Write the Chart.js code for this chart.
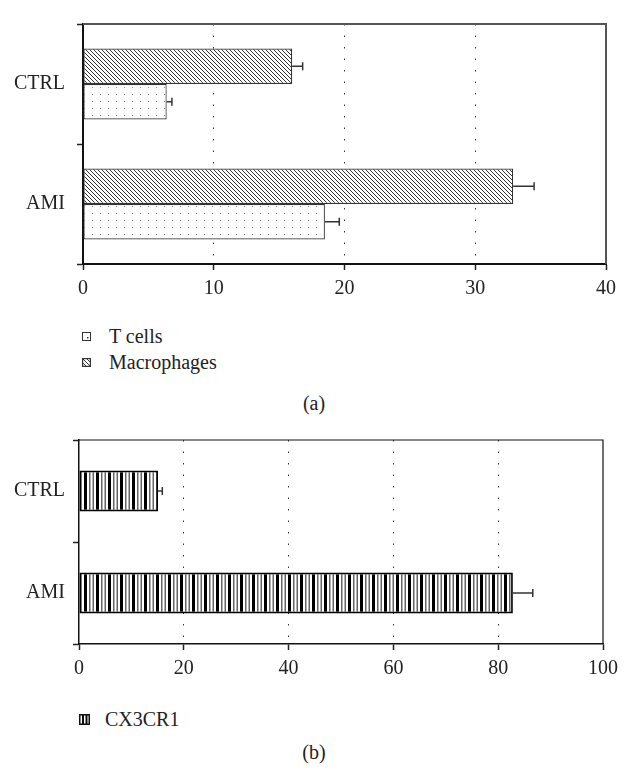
<!DOCTYPE html>
<html>
<head>
<meta charset="utf-8">
<script src="https://cdn.jsdelivr.net/npm/chart.js@4"></script>
<style>
  body { margin: 0; background: #fff; width: 628px; height: 771px; position: relative; overflow: hidden;
         font-family: "Liberation Serif", serif; color: #222; }
  canvas.plot { position: absolute; left: 0; }
  .lg { position: absolute; font-size: 20px; line-height: 22px; white-space: nowrap; }
  .sw { position: absolute; }
  .cap { position: absolute; font-size: 20px; line-height: 22px; width: 628px; text-align: center; left: 0; }
</style>
</head>
<body>
<canvas id="chartA" class="plot" width="628" height="300" style="top:0"></canvas>
<canvas id="swT" class="sw" width="9" height="9" style="left:82px;top:332px"></canvas>
<div class="lg" style="left:109px;top:325px">T cells</div>
<canvas id="swM" class="sw" width="9" height="9" style="left:82px;top:358px"></canvas>
<div class="lg" style="left:109px;top:351px">Macrophages</div>
<div class="cap" style="top:392px">(a)</div>

<canvas id="chartB" class="plot" width="628" height="260" style="top:420px"></canvas>
<canvas id="swC" class="sw" width="11" height="11" style="left:79px;top:714px"></canvas>
<div class="lg" style="left:105px;top:708px">CX3CR1</div>
<div class="cap" style="top:741px">(b)</div>

<script>
// data (a)
const groups = ['CTRL', 'AMI'];
const tCells = [6.4, 18.5];
const tCellsErr = [0.4, 1.1];
const macrophages = [16.0, 32.9];
const macrophagesErr = [0.8, 1.6];
const ticksA = [0, 10, 20, 30, 40];

// data (b)
const cx3cr1 = [15.1, 82.8];
const cx3cr1Err = [0.8, 3.8];
const ticksB = [0, 20, 40, 60, 80, 100];

// patterns
function makePattern(w, h, draw) {
  const c = document.createElement('canvas');
  c.width = w; c.height = h;
  const g = c.getContext('2d');
  g.fillStyle = '#fff';
  g.fillRect(0, 0, w, h);
  draw(g);
  return c;
}
const hatchTile = makePattern(4, 4, g => {
  g.strokeStyle = '#333';
  g.lineWidth = 1;
  g.beginPath();
  g.moveTo(-1, -1); g.lineTo(5, 5);
  g.moveTo(-1, 3); g.lineTo(1, 5);
  g.moveTo(3, -1); g.lineTo(5, 1);
  g.stroke();
});
const dotTile = makePattern(8, 7, g => {
  g.fillStyle = '#888';
  g.fillRect(4, 3, 1, 1);
});
const stripeTile = makePattern(12, 4, g => {
  g.fillStyle = '#000';
  g.fillRect(0, 0, 3, 4);
  g.fillStyle = '#666';
  g.fillRect(5, 0, 1.5, 4);
  g.fillRect(8.5, 0, 1.5, 4);
});
const pctx = document.createElement('canvas').getContext('2d');
const hatch = pctx.createPattern(hatchTile, 'repeat');
const dots = pctx.createPattern(dotTile, 'repeat');
const stripes = pctx.createPattern(stripeTile, 'repeat');

// legend swatches
function swatch(id, pat, border, lw) {
  const c = document.getElementById(id), g = c.getContext('2d');
  g.fillStyle = g.createPattern(pat, 'repeat');
  g.fillRect(0, 0, c.width, c.height);
  g.strokeStyle = border; g.lineWidth = lw;
  g.strokeRect(lw / 2, lw / 2, c.width - lw, c.height - lw);
}
swatch('swT', makePattern(9, 9, g => { g.fillStyle = '#333'; g.fillRect(5, 5, 1.5, 1.5); }), '#333', 1);
swatch('swM', hatchTile, '#333', 1.2);
swatch('swC', makePattern(11, 11, g => { g.fillStyle = '#111'; g.fillRect(3, 0, 2, 11); g.fillRect(6.5, 0, 2, 11); }), '#111', 1.5);

// error bars + top/right frame
const errorBars = {
  id: 'errorBars',
  afterDatasetsDraw(chart) {
    const ctx = chart.ctx, xs = chart.scales.x;
    chart.data.datasets.forEach((ds, di) => {
      const meta = chart.getDatasetMeta(di);
      meta.data.forEach((bar, i) => {
        const x1 = xs.getPixelForValue(ds.data[i] + ds.errors[i]);
        ctx.save();
        ctx.strokeStyle = '#333';
        ctx.lineWidth = 1.5;
        ctx.beginPath();
        ctx.moveTo(bar.x, bar.y); ctx.lineTo(x1, bar.y);
        ctx.moveTo(x1, bar.y - 4); ctx.lineTo(x1, bar.y + 4);
        ctx.stroke();
        ctx.restore();
      });
    });
  }
};
const frame = {
  id: 'frame',
  afterDraw(chart, args, opts) {
    const a = chart.chartArea, ctx = chart.ctx;
    ctx.save();
    ctx.strokeStyle = opts.color;
    ctx.lineWidth = opts.width;
    ctx.beginPath();
    ctx.moveTo(a.left, a.top); ctx.lineTo(a.right, a.top); ctx.lineTo(a.right, a.bottom);
    ctx.stroke();
    ctx.restore();
  }
};

function options(tickVals, leftW, yPad, pad, frameOpts, axisW) {
  const max = tickVals[tickVals.length - 1];
  return {
    indexAxis: 'y',
    responsive: false,
    animation: false,
    layout: { padding: pad },
    plugins: { legend: { display: false }, tooltip: { enabled: false }, frame: frameOpts },
    scales: {
      x: {
        min: 0, max: max,
        afterBuildTicks: s => { s.ticks = tickVals.map(v => ({ value: v })); },
        afterFit: s => { s.height = 36; },
        ticks: { color: '#222', padding: 7, font: { family: 'Liberation Serif', size: 20 } },
        grid: {
          color: c => (c.tick && (c.tick.value === 0 || c.tick.value === max)) ? 'rgba(0,0,0,0)' : '#333',
          lineWidth: 1, tickLength: 6, tickColor: '#222', tickWidth: 1.5, tickBorderDash: []
        },
        border: { color: '#111', width: axisW, dash: [1.5, 10] }
      },
      y: {
        afterFit: s => { s.width = leftW; },
        ticks: { color: '#222', padding: yPad, font: { family: 'Liberation Serif', size: 20 } },
        grid: { drawOnChartArea: false, tickLength: 6, tickColor: '#222', tickWidth: 1.5 },
        border: { color: '#111', width: axisW }
      }
    }
  };
}

new Chart(document.getElementById('chartA'), {
  type: 'bar',
  data: {
    labels: groups,
    datasets: [
      { label: 'Macrophages', data: macrophages, errors: macrophagesErr, backgroundColor: hatch,
        borderColor: '#333', borderWidth: 1.2, borderSkipped: false, barPercentage: 1, categoryPercentage: 0.59 },
      { label: 'T cells', data: tCells, errors: tCellsErr, backgroundColor: dots,
        borderColor: '#333', borderWidth: 1.2, borderSkipped: false, barPercentage: 1, categoryPercentage: 0.59 }
    ]
  },
  options: options(ticksA, 83, 12, { top: 6, right: 22 }, { color: '#555', width: 2 }, 2),
  plugins: [errorBars, frame]
});

new Chart(document.getElementById('chartB'), {
  type: 'bar',
  data: {
    labels: groups,
    datasets: [
      { label: 'CX3CR1', data: cx3cr1, errors: cx3cr1Err, backgroundColor: stripes,
        borderColor: '#000', borderWidth: 1.8, borderSkipped: false, barPercentage: 1, categoryPercentage: 0.4 }
    ]
  },
  options: options(ticksB, 79, 8, { top: 10, right: 25 }, { color: '#111', width: 1.2 }, 1.5),
  plugins: [errorBars, frame]
});
</script>
</body>
</html>
